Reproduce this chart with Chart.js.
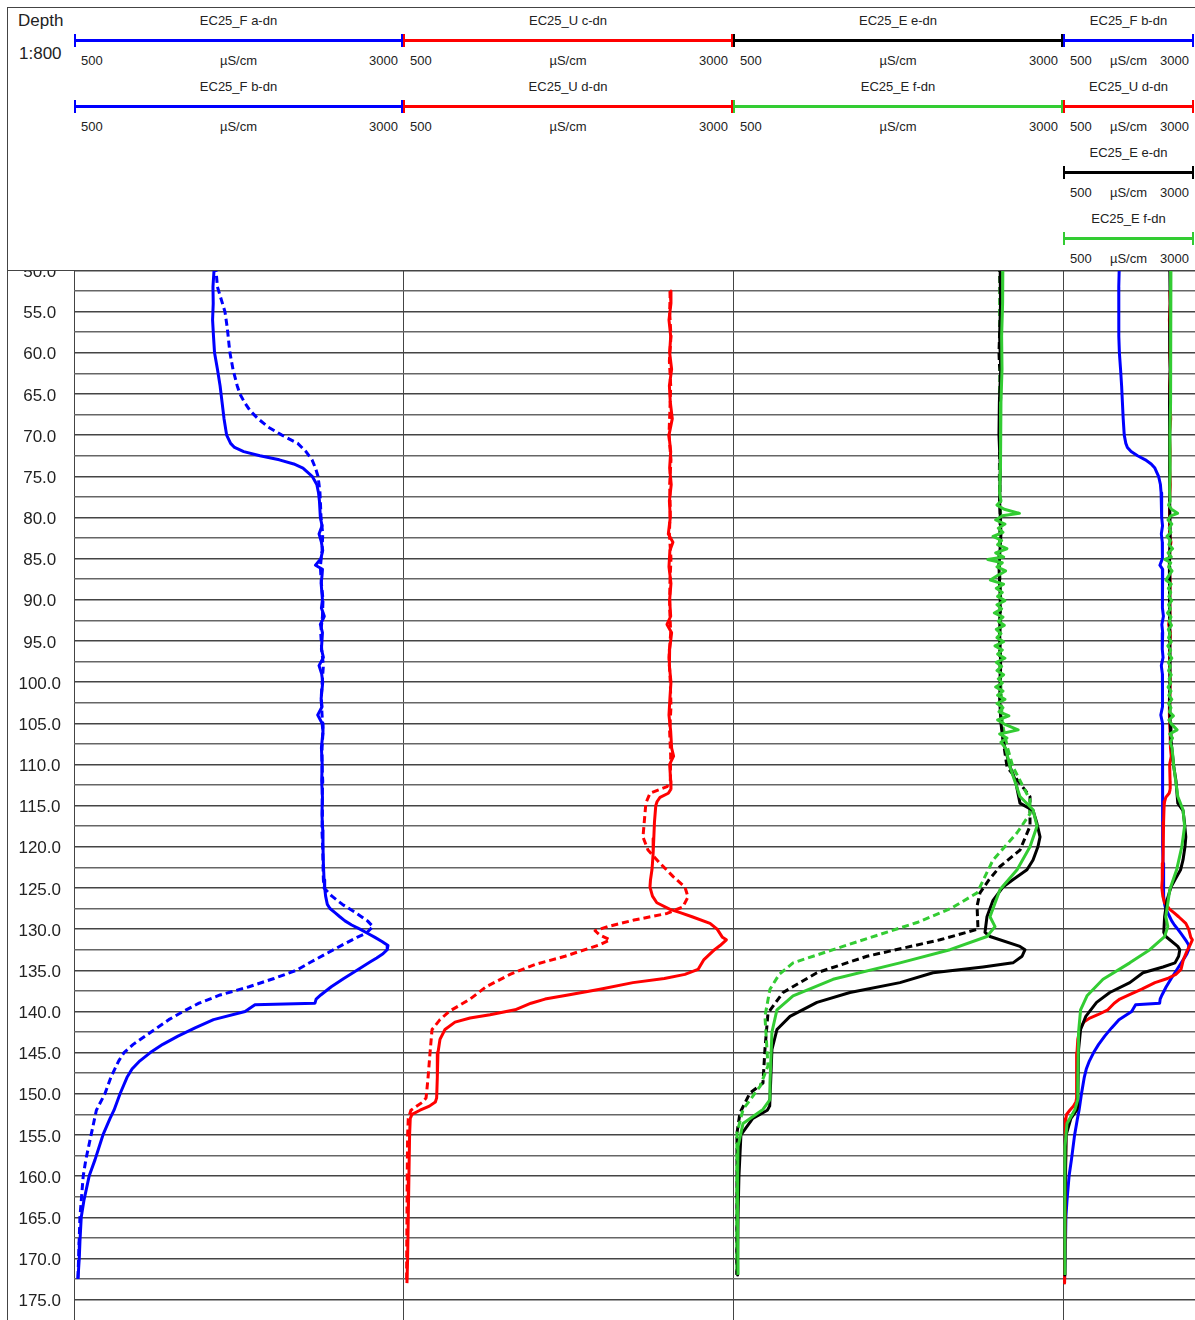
<!DOCTYPE html>
<html>
<head>
<meta charset="utf-8">
<title>EC25 logs</title>
<script src="https://cdn.jsdelivr.net/npm/chart.js@4.4.1/dist/chart.umd.min.js"></script>
<style>
  html, body { margin: 0; padding: 0; background: #fff; }
  body { position: relative; width: 1195px; height: 1320px; overflow: hidden; font-family: "Liberation Sans", Arial, sans-serif; color: #222; }
  #hdr { position: absolute; left: 7px; top: 7px; width: 1188px; height: 262px; border-top: 1px solid #444; border-left: 1px solid #444; border-bottom: 1px solid #444; background: #fff; z-index: 5; }
  .sep { position: absolute; top: 270px; width: 1px; height: 1050px; background: #444; }
  .track { position: absolute; top: 254px; }
  .txt { position: absolute; z-index: 6; white-space: nowrap; line-height: 20px; }
  .bar { position: absolute; z-index: 6; }
</style>
</head>
<body>
<div id="hdr"></div>
<div class="sep" style="left:7px"></div>
<div class="sep" style="left:74px"></div>
<div class="sep" style="left:403px"></div>
<div class="sep" style="left:733px"></div>
<div class="sep" style="left:1063px"></div>
<div class="track" style="left:8px"><canvas id="track1" width="395" height="1066"></canvas></div>
<div class="track" style="left:403px"><canvas id="track2" width="330" height="1066"></canvas></div>
<div class="track" style="left:733px"><canvas id="track3" width="330" height="1066"></canvas></div>
<div class="track" style="left:1063px"><canvas id="track4" width="132" height="1066"></canvas></div>
<script>
// scale of every track (µS/cm) and the depth window
const scaleMin = 500;
const scaleMax = 3000;
const unit = 'µS/cm';
const depthTop = 48;
const depthBottom = 177.48;
const depthLabels = [50, 55, 60, 65, 70, 75, 80, 85, 90, 95, 100, 105, 110, 115, 120, 125, 130, 135, 140, 145, 150, 155, 160, 165, 170, 175];

// [depth, EC25] pairs
const fA_dn = [[48,1579],[50,1579],[52,1590],[53,1609],[55,1647],[57,1665],[59,1678],[60,1685],[62,1708],[64,1740],[65,1761],[66,1795],[67,1837],[68,1898],[69,1974],[70,2080],[71,2200],[72,2263],[73,2309],[74,2335],[75,2354],[76,2362],[77,2369],[78,2372],[80,2377],[82,2390],[84,2385],[86,2372],[88,2380],[90,2392],[92,2388],[94,2375],[96,2382],[98,2395],[100,2386],[102,2378],[104,2385],[106,2392],[108,2385],[110,2384],[112,2390],[114,2386],[116,2388],[118,2384],[120,2390],[122,2392],[124,2395],[125,2400],[126,2460],[127,2540],[128,2640],[129,2730],[129.7,2772],[130.5,2720],[131,2650],[132,2530],[133,2415],[134,2300],[135,2190],[136,2020],[137,1830],[138,1610],[139,1450],[140,1330],[141,1220],[142,1130],[143,1040],[144,950],[145,880],[146,840],[148,780],[150,735],[152,670],[155,630],[158,590],[160,570],[165,545],[170,535],[172.5,530]];

const fB_dn = [[48,1564],[50,1564],[52,1556],[54,1558],[56,1553],[58,1560],[60,1568],[62,1590],[64,1610],[66,1625],[68,1640],[70,1660],[71,1690],[71.5,1720],[72,1790],[72.5,1913],[73,2060],[73.5,2170],[74,2240],[75,2310],[76,2345],[77,2358],[78,2365],[80,2372],[81,2385],[82,2362],[83,2380],[84,2390],[85,2376],[85.8,2335],[86.3,2388],[87,2385],[88,2378],[90,2388],[91,2380],[92,2402],[93,2372],[94,2388],[96,2380],[97,2395],[98,2362],[99,2382],[100,2390],[102,2378],[103,2385],[104,2352],[105,2385],[106,2392],[108,2380],[110,2386],[112,2382],[114,2388],[116,2384],[118,2390],[120,2392],[122,2395],[124,2400],[125,2405],[126,2412],[127,2425],[127.5,2445],[128,2483],[128.5,2520],[129,2559],[129.5,2610],[130,2673],[130.5,2730],[131,2787],[131.5,2840],[132,2886],[132.5,2880],[133,2848],[133.5,2800],[134,2749],[135,2650],[136,2550],[137,2455],[138,2375],[138.5,2340],[139,2331],[139.2,1875],[140,1800],[141,1560],[142,1420],[143,1290],[144,1175],[145,1080],[146,1001],[147,941],[148,903],[150,850],[151,827],[152,804],[153,774],[155,720],[158,660],[160,615],[163,575],[165,555],[168,545],[170,540],[172.5,530]];

const uC_dn = [[52.5,2525],[55,2520],[58,2530],[61,2518],[64,2528],[67,2522],[70,2515],[73,2530],[76,2520],[79,2525],[82,2518],[85,2530],[88,2522],[91,2520],[94,2528],[97,2515],[100,2525],[103,2530],[106,2520],[109,2528],[112,2525],[112.7,2500],[113.5,2371],[114.7,2340],[116,2333],[118.8,2318],[120.4,2356],[122,2447],[123.6,2545],[124.9,2636],[126.1,2659],[127.3,2620],[128.1,2500],[128.9,2250],[129.7,2050],[130.2,1955],[130.7,1990],[131.3,2068],[131.9,1990],[133.3,1727],[134.3,1500],[135.5,1311],[137,1130],[138.5,1008],[140,850],[141,780],[142.2,720],[145,705],[148,690],[150.5,675],[151,650],[152,560],[153,540],[155,535],[160,532],[165,530],[170,528],[173,528]];

const uD_dn = [[52.5,2523],[54,2530],[56,2515],[58,2528],[60,2520],[62,2535],[64,2518],[66,2525],[68,2540],[70,2515],[72,2528],[74,2520],[76,2532],[78,2518],[80,2525],[82,2510],[83,2545],[84,2522],[86,2515],[88,2530],[90,2520],[92,2528],[93,2500],[94,2535],[96,2520],[98,2518],[100,2530],[102,2522],[104,2515],[106,2528],[108,2535],[109,2550],[110,2520],[112,2528],[113,2530],[113.5,2510],[114,2447],[114.5,2425],[115,2415],[117,2405],[119,2400],[120.8,2395],[122,2390],[122.8,2386],[124,2375],[124.9,2371],[126,2390],[126.8,2423],[127.6,2523],[128,2600],[128.5,2690],[129.3,2826],[130,2880],[131,2920],[131.3,2950],[132,2902],[132.5,2860],[133.7,2780],[134.9,2735],[135.5,2636],[136,2480],[136.5,2242],[137.3,1992],[138,1750],[138.5,1576],[139,1470],[139.8,1349],[140.4,1159],[140.8,1008],[141.3,894],[142.2,818],[143.4,780],[145,765],[148,760],[150.5,755],[151,745],[151.5,700],[152,629],[152.5,568],[153,555],[155,550],[160,545],[165,540],[170,535],[173,530]];

const eE_dn = [[48,2523],[50,2523],[54,2530],[58,2520],[62,2528],[66,2518],[70,2515],[74,2525],[78,2520],[82,2530],[86,2515],[90,2525],[94,2520],[98,2528],[102,2520],[105,2530],[107,2545],[108,2560],[110.3,2599],[112,2640],[114.7,2674],[115.6,2773],[117,2800],[118.8,2826],[120,2810],[121.6,2773],[122.8,2727],[124,2620],[124.9,2545],[126.5,2470],[128.5,2424],[130.4,2409],[130.9,2447],[132.1,2674],[132.5,2712],[133.3,2690],[134.1,2621],[134.6,2394],[135.3,2015],[136.5,1765],[137.7,1386],[138.9,1136],[140.6,932],[142.2,833],[144.6,795],[150.7,780],[151.5,778],[152,760],[153,650],[155,560],[160,545],[165,538],[170,535],[172,535]];

const eE_dn2 = [[48,2520],[50,2520],[55,2525],[60,2515],[65,2528],[70,2520],[75,2518],[80,2525],[85,2515],[90,2528],[95,2520],[100,2525],[105,2535],[108,2555],[110.3,2576],[112,2660],[113.9,2750],[117.5,2750],[120.4,2674],[122.4,2523],[124,2440],[125.6,2371],[127.2,2349],[130,2356],[131.3,2068],[133.3,1515],[135.3,1136],[137.7,879],[140.2,765],[144.6,742],[148.7,727],[149.9,629],[152.3,553],[154.8,530],[160,530],[170,528],[172,528]];

const eF_dn = [[48,2545],[50,2545],[54,2540],[58,2535],[62,2538],[66,2530],[70,2525],[74,2528],[77,2520],[78,2530],[78.5,2500],[79,2555],[79.5,2670],[79.8,2540],[80.3,2490],[80.8,2560],[81.3,2510],[81.8,2545],[82.3,2470],[82.8,2535],[83.3,2505],[83.8,2575],[84.3,2490],[84.8,2550],[85.1,2430],[85.5,2540],[86,2500],[86.5,2565],[87,2510],[87.6,2450],[88.1,2550],[88.6,2495],[89.1,2540],[89.6,2505],[90.1,2560],[90.6,2500],[91.1,2535],[91.6,2480],[92.1,2545],[92.6,2510],[93.1,2555],[93.6,2495],[94.1,2530],[94.6,2500],[95.1,2550],[95.6,2485],[96.1,2540],[96.6,2505],[97.1,2560],[97.6,2495],[98.1,2535],[98.6,2500],[99.1,2550],[99.6,2510],[100.1,2540],[100.6,2490],[101.1,2545],[101.6,2505],[102.1,2560],[102.6,2500],[103.1,2545],[103.6,2515],[104.1,2590],[104.6,2505],[105.1,2555],[105.8,2660],[106.3,2520],[106.8,2575],[107.3,2530],[108,2565],[110.3,2599],[113.9,2674],[115.5,2773],[117.5,2803],[120,2750],[122.8,2652],[125.2,2523],[128.5,2447],[129.7,2485],[130.9,2424],[132.5,2144],[134.1,1765],[136.1,1258],[138.1,955],[139.8,833],[142.5,795],[148.7,780],[150.7,780],[151.9,727],[153.6,576],[156.4,538],[160,535],[165,535],[172,538]];

const eF_dn2 = [[48,2525],[50,2525],[55,2520],[60,2530],[65,2518],[70,2525],[75,2520],[80,2528],[85,2515],[90,2525],[95,2520],[100,2528],[105,2540],[108,2580],[110.3,2621],[114.3,2750],[116,2750],[118.3,2652],[121.6,2470],[125.6,2349],[127.5,2150],[129.2,1894],[132.1,1333],[134.1,955],[135.5,850],[137.3,780],[140.6,742],[146.6,765],[149.1,705],[151.9,576],[154.8,530],[160,528],[170,528],[172,528]];

const BLUE = '#0000ff';
const RED = '#ff0000';
const BLACK = '#000000';
const GREEN = '#33cc33';
const FONT = '"Liberation Sans", Arial, sans-serif';

const el = (id) => document.getElementById(id);

// grid every 2.5 m, labels every 5 m
const gridDepths = [];
depthLabels.forEach((d) => {
  gridDepths.push(d);
  if (d + 2.5 <= depthBottom) gridDepths.push(d + 2.5);
});

// ---- header (scale bars) ----
const trackEdges = [74, 403, 733, 1063, 1194];
const trackHeaders = [
  [['EC25_F a-dn', BLUE], ['EC25_F b-dn', BLUE]],
  [['EC25_U c-dn', RED], ['EC25_U d-dn', RED]],
  [['EC25_E e-dn', BLACK], ['EC25_E f-dn', GREEN]],
  [['EC25_F b-dn', BLUE], ['EC25_U d-dn', RED], ['EC25_E e-dn', BLACK], ['EC25_E f-dn', GREEN]]
];

function addText(text, x, y, align, size) {
  const d = document.createElement('div');
  d.className = 'txt';
  d.textContent = text;
  d.style.fontSize = size + 'px';
  d.style.top = (y - 10) + 'px';
  if (align === 'center') {
    d.style.left = (x - 100) + 'px';
    d.style.width = '200px';
    d.style.textAlign = 'center';
  } else if (align === 'right') {
    d.style.left = (x - 200) + 'px';
    d.style.width = '200px';
    d.style.textAlign = 'right';
  } else {
    d.style.left = x + 'px';
  }
  document.body.appendChild(d);
}

function addRect(x, y, w, h, color) {
  const d = document.createElement('div');
  d.className = 'bar';
  d.style.left = x + 'px';
  d.style.top = y + 'px';
  d.style.width = w + 'px';
  d.style.height = h + 'px';
  d.style.background = color;
  document.body.appendChild(d);
}

addText('Depth', 18, 21, 'left', 17);
addText('1:800', 19, 54, 'left', 17);

trackHeaders.forEach((rows, t) => {
  const x1 = trackEdges[t];
  const x2 = trackEdges[t + 1];
  const mid = (x1 + x2) / 2;
  rows.forEach(([name, color], r) => {
    const y0 = 66 * r;
    addText(name, mid, 21 + y0, 'center', 13);
    addRect(x1, 39 + y0, x2 - x1, 3, color);
    addRect(x1, 34 + y0, 2, 13, color);
    addRect(x2 - 2, 34 + y0, 2, 13, color);
    addText(String(scaleMin), x1 + 7, 61 + y0, 'left', 13);
    addText(unit, mid, 61 + y0, 'center', 13);
    addText(String(scaleMax), x2 - 5, 61 + y0, 'right', 13);
  });
});

// ---- tracks ----
function curve(label, series, color, dashed, order) {
  return {
    label,
    data: series.map(([d, v]) => ({ x: v, y: d })),
    showLine: true,
    borderColor: color,
    backgroundColor: color,
    borderWidth: 3,
    borderDash: dashed ? [7, 4] : [],
    borderJoinStyle: 'round',
    pointRadius: 0,
    pointHoverRadius: 0,
    tension: 0,
    fill: false,
    order
  };
}

function makeTrack(id, datasets, withLabels) {
  return new Chart(el(id), {
    type: 'scatter',
    data: { datasets },
    options: {
      responsive: false,
      animation: false,
      devicePixelRatio: 1,
      layout: { padding: 0 },
      plugins: {
        legend: { display: false },
        tooltip: { enabled: false }
      },
      scales: {
        x: {
          type: 'linear',
          min: scaleMin,
          max: scaleMax,
          display: false
        },
        y: {
          type: 'linear',
          reverse: true,
          min: depthTop,
          max: depthBottom,
          afterBuildTicks: (scale) => {
            scale.ticks = gridDepths.map((value) => ({ value }));
          },
          afterFit: (scale) => {
            scale.width = withLabels ? 66 : 0;
            scale.paddingTop = 0;
            scale.paddingBottom = 0;
          },
          grid: {
            color: (ctx) => (depthLabels.includes(ctx.tick.value) ? '#444' : '#666'),
            lineWidth: 1.5,
            drawTicks: false
          },
          border: {
            display: false
          },
          ticks: {
            display: withLabels,
            autoSkip: false,
            crossAlign: 'center',
            padding: 13,
            labelOffset: 2,
            color: '#222',
            font: { family: FONT, size: 17 },
            callback: (value) => (depthLabels.includes(value) ? value.toFixed(1) : '')
          }
        }
      }
    }
  });
}

makeTrack('track1', [
  curve('EC25_F a-dn', fA_dn, BLUE, true, 1),
  curve('EC25_F b-dn', fB_dn, BLUE, false, 0)
], true);

makeTrack('track2', [
  curve('EC25_U c-dn', uC_dn, RED, true, 1),
  curve('EC25_U d-dn', uD_dn, RED, false, 0)
], false);

makeTrack('track3', [
  curve('EC25_E e-dn (dashed)', eE_dn2, BLACK, true, 3),
  curve('EC25_E f-dn (dashed)', eF_dn2, GREEN, true, 2),
  curve('EC25_E e-dn', eE_dn, BLACK, false, 1),
  curve('EC25_E f-dn', eF_dn, GREEN, false, 0)
], false);

makeTrack('track4', [
  curve('EC25_F b-dn', fB_dn, BLUE, false, 3),
  curve('EC25_U d-dn', uD_dn, RED, false, 2),
  curve('EC25_E e-dn', eE_dn, BLACK, false, 1),
  curve('EC25_E f-dn', eF_dn, GREEN, false, 0)
], false);
</script>
</body>
</html>
